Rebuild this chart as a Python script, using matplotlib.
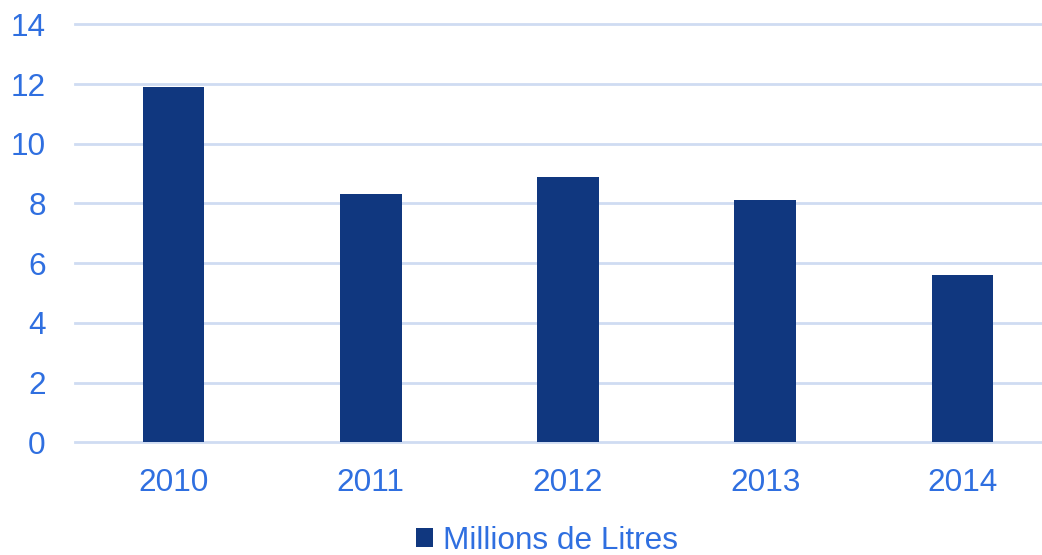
import matplotlib
matplotlib.use("Agg")
import matplotlib.pyplot as plt

years = ["2010", "2011", "2012", "2013", "2014"]
values = [11.9, 8.3, 8.9, 8.1, 5.6]
series_name = "Millions de Litres"
yticks = [0, 2, 4, 6, 8, 10, 12, 14]

BAR = "#10377f"
TXT = "#2f6fe0"
GRID = "#cfdcf2"

plt.rcParams['font.family'] = ['Liberation Sans', 'DejaVu Sans']

W, H = 1042, 555
fig = plt.figure(figsize=(W / 100, H / 100), dpi=100)
left, right, top, bottom = 75, 1061, 24.3, 442.3
ax = fig.add_axes([left / W, 1 - bottom / H, (right - left) / W, (bottom - top) / H])

x = list(range(len(years)))
bars = ax.bar(x, values, width=0.312, color=BAR, label=series_name, zorder=3)
ax.set_xlim(-0.5, len(years) - 0.5)
ax.set_ylim(0, 14)
ax.set_yticks(yticks)
ax.set_yticklabels([str(t) for t in yticks])
ax.set_xticks(x)
ax.set_xticklabels(years)
ax.grid(axis='y', color=GRID, linewidth=2, zorder=0)
ax.set_axisbelow(True)
for gl in ax.get_ygridlines():
    gl.set_clip_on(False)
for s in ax.spines.values():
    s.set_visible(False)
ax.tick_params(axis='both', length=0, labelsize=22.7, colors=TXT)
ax.tick_params(axis='y', pad=21)
ax.tick_params(axis='x', pad=18.5)

leg = fig.legend(handles=[bars], labels=[series_name], loc='center',
                 bbox_to_anchor=(547 / W, 1 - 541 / H), frameon=False,
                 fontsize=22.7, handlelength=0.54, handleheight=0.54,
                 handletextpad=0.29, borderpad=0, borderaxespad=0)
for t in leg.get_texts():
    t.set_color(TXT)

fig.savefig("out.png", dpi=100)
